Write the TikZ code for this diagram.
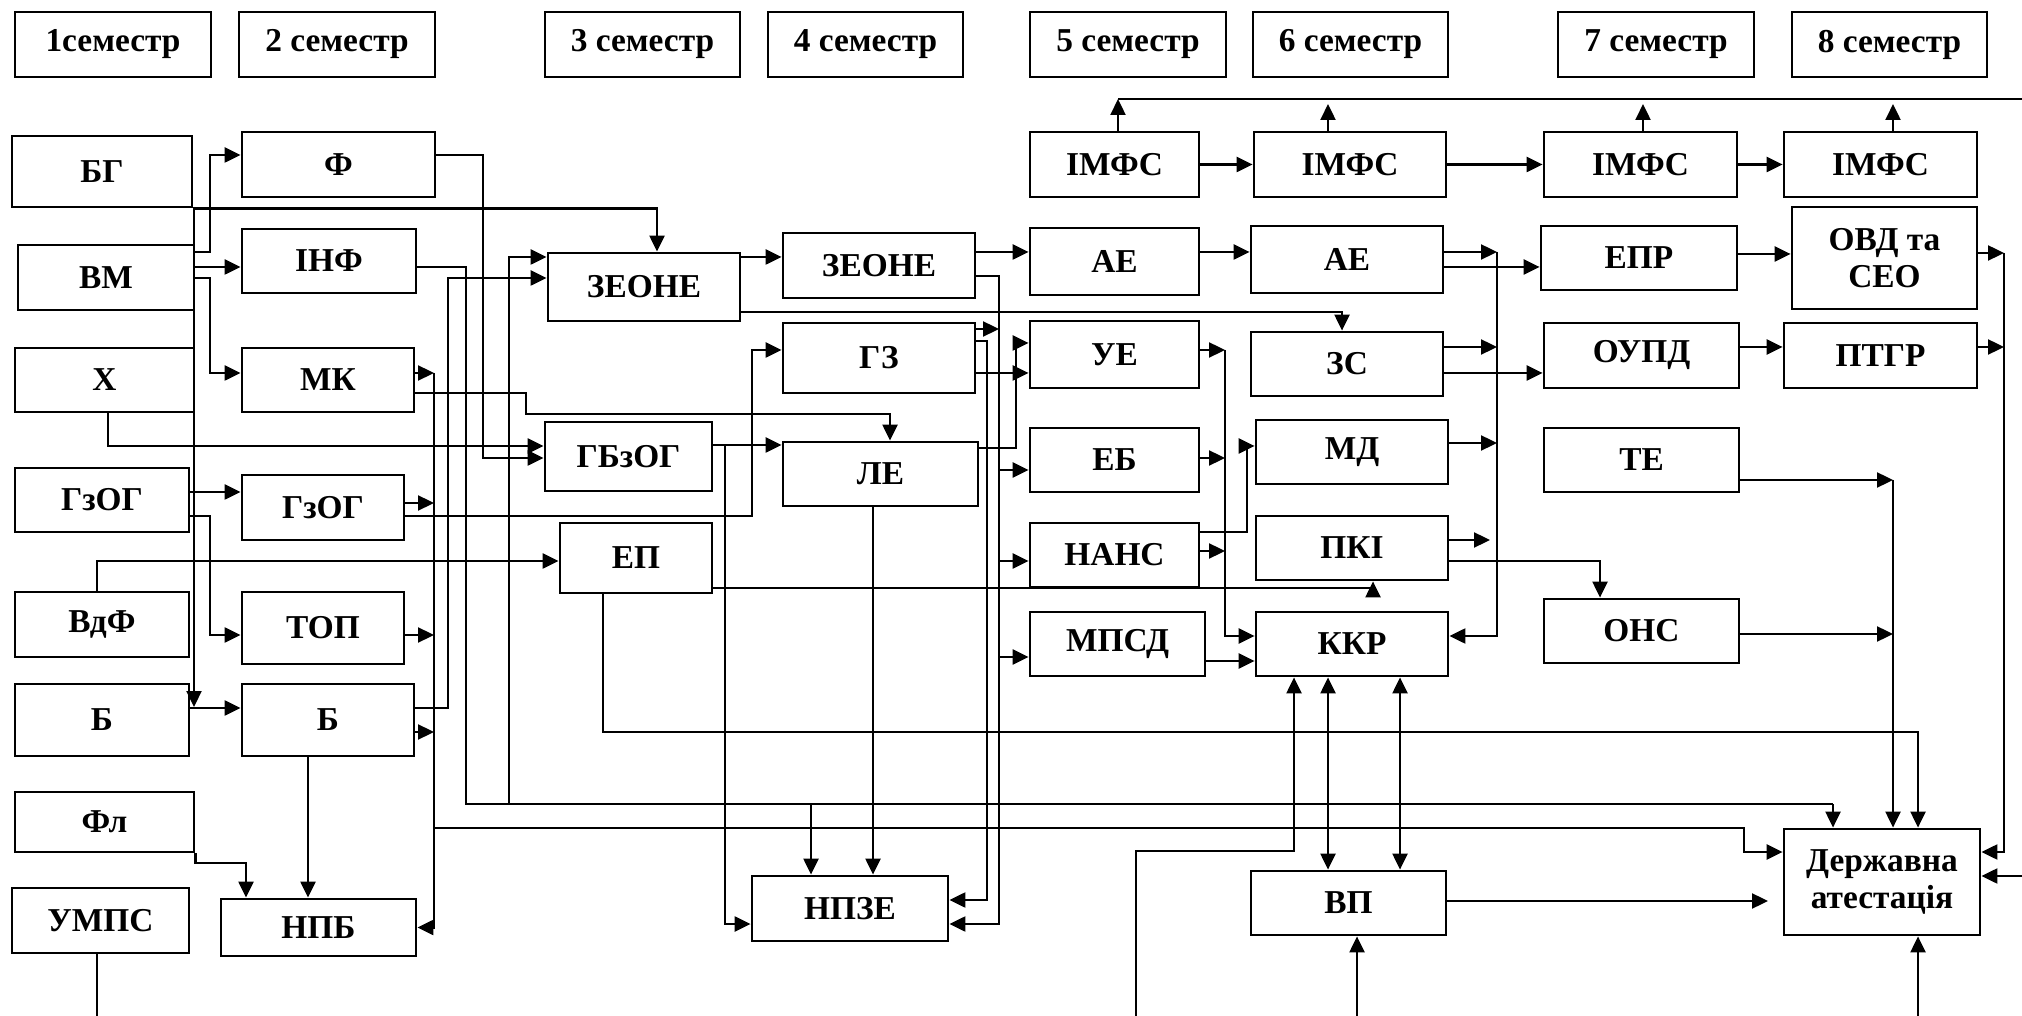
\documentclass[tikz,border=0pt]{standalone}
\usepackage{fontspec}
\setmainfont{Liberation Serif}
\usetikzlibrary{arrows.meta}

\tikzset{
    blk/.style={draw, line width=0.8pt, align=center, inner sep=1pt,
        font=\bfseries\fontsize{9.5}{10.5}\selectfont},
    ar/.style={-{Triangle[length=1.6mm,width=1.5mm]}},
    dar/.style={{Triangle[length=1.6mm,width=1.5mm]}-{Triangle[length=1.6mm,width=1.5mm]}},
}
% box from its corners (pixel units of the picture)
\newcommand{\blok}[6]{%
    \node[blk, minimum width={(#4-#2)*0.1mm}, minimum height={(#5-#3)*0.1mm}]
        (#1) at ({(#2+#4)/2},{(#3+#5)/2}) {#6};}

\begin{document}
\begin{tikzpicture}[x=0.1mm, y=-0.1mm, line width=0.65pt]
\useasboundingbox (0,0) rectangle (2022,1016);

% semesters
\blok{sem1}{15}{12}{211}{77}{1семестр}
\blok{sem2}{239}{12}{435}{77}{2 семестр}
\blok{sem3}{545}{12}{740}{77}{3 семестр}
\blok{sem4}{768}{12}{963}{77}{4 семестр}
\blok{sem5}{1030}{12}{1226}{77}{5 семестр}
\blok{sem6}{1253}{12}{1448}{77}{6 семестр}
\blok{sem7}{1558}{12}{1754}{77}{7 семестр}
\blok{sem8}{1792}{12}{1987}{77}{8 семестр}

% 1
\blok{bg}{12}{136}{192}{207}{БГ}
\blok{vm}{18}{245}{194}{310}{ВМ}
\blok{kh}{15}{348}{194}{412}{Х}
\blok{gzog}{15}{468}{189}{532}{ГзОГ}
\blok{vdf}{15}{592}{189}{657}{ВдФ}
\blok{b1}{15}{684}{189}{756}{Б}
\blok{fl}{15}{792}{194}{852}{Фл}
\blok{umps}{12}{888}{189}{953}{УМПС}
% 2
\blok{f}{242}{132}{435}{197}{Ф}
\blok{inf}{242}{229}{416}{293}{ІНФ}
\blok{mk}{242}{348}{414}{412}{МК}
\blok{gzog2}{242}{475}{404}{540}{ГзОГ}
\blok{tp}{242}{592}{404}{664}{ТОП}
\blok{b2}{242}{684}{414}{756}{Б}
\blok{npb}{221}{899}{416}{956}{НПБ}
% 3, 4
\blok{zeone3}{548}{253}{740}{321}{ЗЕОНЕ}
\blok{gbzog}{545}{422}{712}{491}{ГБзОГ}
\blok{ep}{560}{523}{712}{593}{ЕП}
\blok{zeone4}{783}{233}{975}{298}{ЗЕОНЕ}
\blok{gz}{783}{323}{975}{393}{ГЗ}
\blok{le}{783}{442}{978}{506}{ЛЕ}
\blok{npze}{752}{876}{948}{941}{НПЗЕ}
% 5, 6
\blok{imfs5}{1030}{132}{1199}{197}{ІМФС}
\blok{ae5}{1030}{228}{1199}{295}{АЕ}
\blok{ue}{1030}{321}{1199}{388}{УЕ}
\blok{eb}{1030}{428}{1199}{492}{ЕБ}
\blok{nans}{1030}{523}{1199}{587}{НАНС}
\blok{mpsd}{1030}{612}{1205}{676}{МПСД}
\blok{imfs6}{1254}{132}{1446}{197}{ІМФС}
\blok{ae6}{1251}{226}{1443}{293}{АЕ}
\blok{zs}{1251}{332}{1443}{396}{ЗС}
\blok{md}{1256}{420}{1448}{484}{МД}
\blok{pki}{1256}{516}{1448}{580}{ПКІ}
\blok{kkr}{1256}{612}{1448}{676}{ККР}
\blok{vp}{1251}{871}{1446}{935}{ВП}
% 7, 8
\blok{imfs7}{1544}{132}{1737}{197}{ІМФС}
\blok{epr}{1541}{226}{1737}{290}{ЕПР}
\blok{oupd}{1544}{323}{1739}{388}{ОУПД}
\blok{te}{1544}{428}{1739}{492}{ТЕ}
\blok{ons}{1544}{599}{1739}{663}{ОНС}
\blok{imfs8}{1784}{132}{1977}{197}{ІМФС}
\blok{ovd}{1792}{207}{1977}{309}{ОВД та\\СЕО}
\blok{ptgr}{1784}{323}{1977}{388}{ПТГР}
\blok{da}{1784}{829}{1980}{935}{Державна\\атестація}

% first column
\draw[ar] (bg.south east) -| (zeone3.north -| 657,0);
\draw[ar] (194,207) -- (194,707);
\draw[ar] (b1.east |- 0,708) -- (b2.west |- 0,708);
\draw[ar] (vm.east |- 0,252) -- (210,252) |- (f.west |- 0,155);
\draw[ar] (vm.east |- 0,267) -- (inf.west |- 0,267);
\draw[ar] (vm.east |- 0,278) -- (210,278) |- (mk.west |- 0,373);
\draw[ar] (kh.south -| 108,0) |- (gbzog.west |- 0,446);
\draw[ar] (gzog.east |- 0,492) -- (gzog2.west |- 0,492);
\draw[ar] (gzog.east |- 0,516) -- (210,516) |- (tp.west |- 0,635);
\draw[ar] (vdf.north -| 97,0) |- (ep.west |- 0,561);
\draw[ar] (fl.south east) |- (246,863) -- (npb.north -| 246,0);
\draw (umps.south -| 97,0) -- (97,1016);

% second column
\draw[ar] (b2.south -| 308,0) -- (npb.north -| 308,0);
\draw[ar] (f.east |- 0,155) -| (483,458) -- (gbzog.west |- 0,458);
\draw (inf.east |- 0,267) -| (466,804) -- (1833,804);
\draw[ar] (1833,804) -- (da.north -| 1833,0);
\draw[ar] (811,804) -- (npze.north -| 811,0);
\draw[ar] (509,804) |- (zeone3.west |- 0,257);
\draw[ar] (mk.east |- 0,373) -- (434,373);
\draw[ar] (434,373) |- (npb.east);
\draw[ar] (gzog2.east |- 0,503) -- (434,503);
\draw[ar] (tp.east |- 0,635) -- (434,635);
\draw[ar] (b2.east |- 0,732) -- (434,732);
\draw[ar] (434,828) -- (1744,828) |- (da.west |- 0,852);
\draw[ar] (mk.east |- 0,393) -- (526,393) |- (890,414) -- (le.north -| 890,0);
\draw[ar] (gzog2.east |- 0,516) -- (752,516) |- (gz.west |- 0,350);
\draw[ar] (b2.east |- 0,708) -| (448,278) -- (zeone3.west |- 0,278);

% third and fourth columns
\draw[ar] (zeone3.east |- 0,257) -- (zeone4.west |- 0,257);
\draw[ar] (zeone3.east |- 0,312) -| (zs.north -| 1342,0);
\draw[ar] (gbzog.east |- 0,445) -- (le.west |- 0,445);
\draw[ar] (725,445) |- (npze.west |- 0,924);
\draw[ar] (ep.east |- 0,588) -| (pki.south -| 1373,0);
\draw[ar] (ep.south -| 603,0) |- (1918,732) -- (da.north -| 1918,0);
\draw[ar] (le.south -| 873,0) -- (npze.north -| 873,0);
\draw[ar] (le.east |- 0,448) -- (1016,448) |- (ue.west |- 0,343);
\draw[ar] (zeone4.east |- 0,252) -- (ae5.west |- 0,252);
\draw[ar] (zeone4.east |- 0,276) -| (999,924) -- (npze.east |- 0,924);
\draw[ar] (999,470) -- (eb.west |- 0,470);
\draw[ar] (999,561) -- (nans.west |- 0,561);
\draw[ar] (999,657) -- (mpsd.west |- 0,657);
\draw[ar] (gz.east |- 0,341) -- (987,341) |- (npze.east |- 0,900);
\draw[ar] (gz.east |- 0,329) -- (999,329);
\draw[ar] (gz.east |- 0,373) -- (ue.west |- 0,373);

% fifth and sixth columns
\draw[ar] (ae5.east |- 0,252) -- (ae6.west |- 0,252);
\draw[ar] (imfs5) -- (imfs6);
\draw[ar] (imfs6) -- (imfs7);
\draw[ar] (imfs7) -- (imfs8);
\draw (1118,99) -- (2022,99);
\draw[ar] (imfs5.north -| 1118,0) -- (1118,99);
\draw[ar] (imfs6.north -| 1328,0) -- (1328,104);
\draw[ar] (imfs7.north -| 1643,0) -- (1643,104);
\draw[ar] (imfs8.north -| 1893,0) -- (1893,104);
\draw[ar] (ue.east |- 0,350) -- (1225,350);
\draw[ar] (1225,350) |- (kkr.west |- 0,636);
\draw[ar] (eb.east |- 0,458) -- (1225,458);
\draw[ar] (nans.east |- 0,551) -- (1225,551);
\draw[ar] (nans.east |- 0,532) -- (1247,532) |- (md.west |- 0,446);
\draw[ar] (mpsd.east |- 0,661) -- (kkr.west |- 0,661);
\draw[ar] (ae6.east |- 0,252) -- (1497,252);
\draw[ar] (1497,252) |- (kkr.east |- 0,636);
\draw[ar] (zs.east |- 0,347) -- (1497,347);
\draw[ar] (md.east |- 0,443) -- (1497,443);
\draw[ar] (pki.east |- 0,540) -- (1490,540);
\draw[ar] (ae6.east |- 0,267) -- (epr.west |- 0,267);
\draw[ar] (zs.east |- 0,373) -- (oupd.west |- 0,373);
\draw[ar] (pki.east |- 0,561) -| (ons.north -| 1600,0);
\draw[ar] (1136,1016) |- (1294,851) -- (kkr.south -| 1294,0);
\draw[dar] (kkr.south -| 1328,0) -- (vp.north -| 1328,0);
\draw[dar] (kkr.south -| 1400,0) -- (vp.north -| 1400,0);
\draw[ar] (1357,1016) -- (vp.south -| 1357,0);
\draw[ar] (vp.east |- 0,901) -- (1768,901);

% seventh and eighth columns
\draw[ar] (epr.east |- 0,254) -- (ovd.west |- 0,254);
\draw[ar] (oupd.east |- 0,347) -- (ptgr.west |- 0,347);
\draw[ar] (ovd.east |- 0,253) -- (2004,253);
\draw[ar] (ptgr.east |- 0,347) -- (2004,347);
\draw[ar] (2004,253) |- (da.east |- 0,852);
\draw[ar] (te.east |- 0,480) -- (1893,480);
\draw[ar] (1893,480) -- (da.north -| 1893,0);
\draw[ar] (ons.east |- 0,634) -- (1893,634);
\draw[ar] (2022,876) -- (da.east |- 0,876);
\draw[ar] (1918,1016) -- (da.south -| 1918,0);
\end{tikzpicture}
\end{document}
